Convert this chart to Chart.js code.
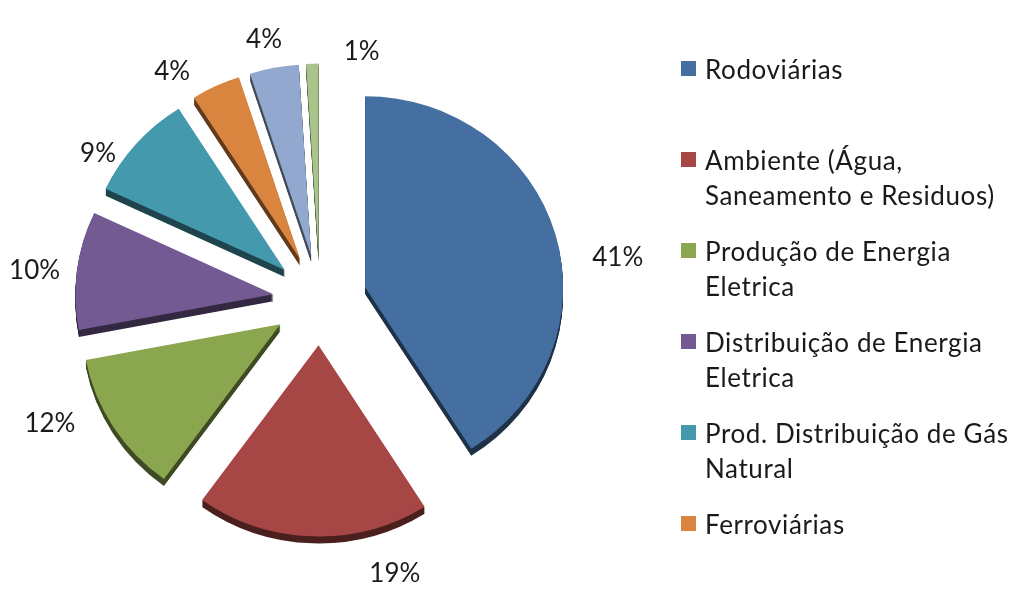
<!DOCTYPE html>
<html lang="pt">
<head>
<meta charset="utf-8">
<title>Investimentos por setor</title>
<script src="https://cdn.jsdelivr.net/npm/chart.js@4.4.1/dist/chart.umd.min.js"></script>
<style>
  html, body { margin: 0; padding: 0; background: #ffffff; width: 1010px; height: 594px; overflow: hidden; }
  #wrap { position: absolute; left: 0; top: 0; width: 1010px; height: 594px; }
  #legend {
    position: absolute; left: 681px; top: 52px; width: 329px; height: 542px; overflow: hidden;
    font-family: Lato, "Open Sans", sans-serif; font-size: 26px; color: #1a1a1a; letter-spacing: 0.6px;
  }
  .item { position: relative; height: 91px; padding-left: 24px; line-height: 35px; box-sizing: border-box; width: 329px; }
  .sw { position: absolute; left: 0; top: 9px; width: 15px; height: 15px; }
</style>
</head>
<body>
<div id="wrap"><canvas id="c"></canvas></div>
<div id="legend"></div>
<script>
// Sector categories and their share of the total (%)
const categories = [
  'Rodoviárias',
  'Ambiente (Água, Saneamento e Residuos)',
  'Produção de Energia Eletrica',
  'Distribuição de Energia Eletrica',
  'Prod. Distribuição de Gás Natural',
  'Ferroviárias',
  'Portos',
  'Aeroportos'
];
const values = [41, 19, 12, 10, 9, 4, 4, 1];
const colors = ['#456fa1', '#a64745', '#8aa64f', '#735a93', '#4599ad', '#d9843f', '#93a8cf', '#aac58c'];

// Label placement around the exploded pie (angle nudge in degrees, distance from centre in px)
const labelNudge = [7.8, -16.6, 7, -1.2, -7, -6.8, -0.9, 11];
const labelDist = [301, 293, 299, 287, 269, 279, 276, 261];

const EXPLODE = 47;   // distance each slice is pulled out from the centre
const DEPTH = 7;      // thickness of the extruded side
const TILT = 0.965;   // slight vertical squash of the tilted disc

function shade(hex, f) {
  const n = parseInt(hex.slice(1), 16);
  const r = Math.round(((n >> 16) & 255) * f);
  const g = Math.round(((n >> 8) & 255) * f);
  const b = Math.round((n & 255) * f);
  return 'rgb(' + r + ',' + g + ',' + b + ')';
}
const sideColors = colors.map(c => shade(c, 0.45));

const pie3d = {
  id: 'pie3d',
  beforeDatasetsDraw(chart) {
    const ctx = chart.ctx;
    const arcs = chart.getDatasetMeta(0).data;
    const drawArc = (arc, dy, fill) => {
      const mid = (arc.startAngle + arc.endAngle) / 2;
      ctx.save();
      ctx.translate(arc.x, arc.y + dy);
      ctx.scale(1, TILT);
      ctx.translate(Math.cos(mid) * EXPLODE, Math.sin(mid) * EXPLODE);
      ctx.translate(-arc.x, -arc.y);
      const saved = arc.options;
      if (fill) arc.options = Object.assign({}, saved, { backgroundColor: fill, borderColor: fill });
      arc.draw(ctx);
      arc.options = saved;
      ctx.restore();
    };
    for (let k = DEPTH; k >= 1; k--) arcs.forEach((a, i) => drawArc(a, k, sideColors[i]));
    arcs.forEach(a => drawArc(a, 0, null));
    return false;
  },
  afterDraw(chart) {
    const ctx = chart.ctx;
    const arcs = chart.getDatasetMeta(0).data;
    const total = values.reduce((s, v) => s + v, 0);
    ctx.save();
    ctx.font = '26px Lato, "Open Sans", sans-serif';
    ctx.fillStyle = '#1a1a1a';
    ctx.textAlign = 'center';
    ctx.textBaseline = 'middle';
    arcs.forEach((a, i) => {
      const ang = (a.startAngle + a.endAngle) / 2 + labelNudge[i] * Math.PI / 180;
      const x = a.x + Math.cos(ang) * labelDist[i];
      const y = a.y + Math.sin(ang) * labelDist[i] * TILT;
      ctx.fillText(Math.round(values[i] / total * 100) + '%', x, y);
    });
    ctx.restore();
  }
};

new Chart(document.getElementById('c'), {
  type: 'pie',
  data: {
    labels: categories,
    datasets: [{ data: values, backgroundColor: colors, borderWidth: 0 }]
  },
  options: {
    responsive: true,
    maintainAspectRatio: false,
    animation: false,
    radius: 198,
    layout: { padding: { top: 6, right: 370, left: 0, bottom: 0 } },
    plugins: { legend: { display: false }, tooltip: { enabled: false } }
  },
  plugins: [pie3d]
});

// Legend beside the pie
const legend = document.getElementById('legend');
categories.forEach((name, i) => {
  const item = document.createElement('div');
  item.className = 'item';
  const sw = document.createElement('span');
  sw.className = 'sw';
  sw.style.background = colors[i];
  item.appendChild(sw);
  item.appendChild(document.createTextNode(name));
  legend.appendChild(item);
});
</script>
</body>
</html>
